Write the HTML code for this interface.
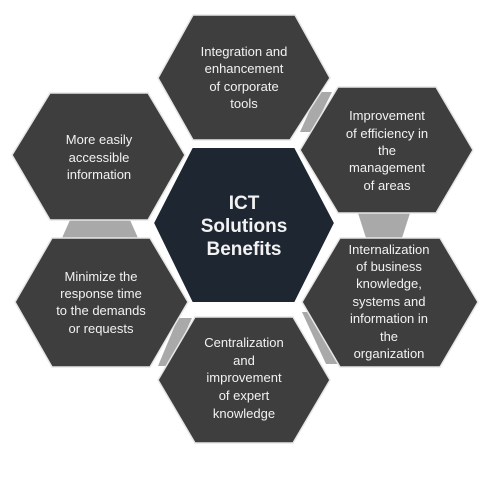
<!DOCTYPE html>
<html><head><meta charset="utf-8"><style>
html,body{margin:0;padding:0;background:#fff;}
svg{display:block;}
text{font-family:"Liberation Sans","DejaVu Sans",sans-serif;fill:#f2f2f2;text-anchor:middle;}
</style></head><body>
<svg width="501" height="501" viewBox="0 0 501 501">
<g fill="#a9a9a9">
<polygon points="318,92 332,92 312,132 300,132"/>
<polygon points="70,220 130,220 138,238 62,238"/>
<polygon points="358,213 410,213 402,238 366,238"/>
<polygon points="178,318 192,318 170,366 158,366"/>
<polygon points="302,312 312,312 338,364 326,364"/>
</g>
<g>
<polygon points="193,15 295,15 330,78 290,140 193,140 158,78" fill="#3e3e3e" stroke="#e6e6e6" stroke-width="1.5"/>
<text font-size="13" x="244" y="56">Integration and</text>
<text font-size="13" x="244" y="73">enhancement</text>
<text font-size="13" x="244" y="91">of corporate</text>
<text font-size="13" x="244" y="108">tools</text>
</g>
<g>
<polygon points="50,93 148,93 185,155 148,220 50,220 12,155" fill="#3e3e3e" stroke="#e6e6e6" stroke-width="1.5"/>
<text font-size="13" x="99" y="144">More easily</text>
<text font-size="13" x="99" y="162">accessible</text>
<text font-size="13" x="99" y="179">information</text>
</g>
<g>
<polygon points="338,87 436,87 473,150 436,213 338,213 300,150" fill="#3e3e3e" stroke="#e6e6e6" stroke-width="1.5"/>
<text font-size="13" x="387" y="120">Improvement</text>
<text font-size="13" x="387" y="138">of efficiency in</text>
<text font-size="13" x="387" y="155">the</text>
<text font-size="13" x="387" y="172">management</text>
<text font-size="13" x="387" y="190">of areas</text>
</g>
<g>
<polygon points="192,147 295,147 335,223 295,303 192,303 153,223" fill="#1e2632" stroke="#ffffff" stroke-width="2"/>
<text font-size="19" font-weight="bold" x="244" y="209">ICT</text>
<text font-size="19" font-weight="bold" x="244" y="232">Solutions</text>
<text font-size="19" font-weight="bold" x="244" y="255">Benefits</text>
</g>
<g>
<polygon points="52,238 150,238 188,302 150,367 52,367 15,302" fill="#3e3e3e" stroke="#e6e6e6" stroke-width="1.5"/>
<text font-size="13" x="101" y="281">Minimize the</text>
<text font-size="13" x="101" y="298">response time</text>
<text font-size="13" x="101" y="315">to the demands</text>
<text font-size="13" x="101" y="333">or requests</text>
</g>
<g>
<polygon points="340,238 440,238 478,302 440,367 340,367 302,302" fill="#3e3e3e" stroke="#e6e6e6" stroke-width="1.5"/>
<text font-size="13" x="389" y="254">Internalization</text>
<text font-size="13" x="389" y="271">of business</text>
<text font-size="13" x="389" y="288">knowledge,</text>
<text font-size="13" x="389" y="306">systems and</text>
<text font-size="13" x="389" y="323">information in</text>
<text font-size="13" x="389" y="341">the</text>
<text font-size="13" x="389" y="358">organization</text>
</g>
<g>
<polygon points="195,317 293,317 330,380 293,443 195,443 158,380" fill="#3e3e3e" stroke="#e6e6e6" stroke-width="1.5"/>
<text font-size="13" x="244" y="347">Centralization</text>
<text font-size="13" x="244" y="365">and</text>
<text font-size="13" x="244" y="382">improvement</text>
<text font-size="13" x="244" y="400">of expert</text>
<text font-size="13" x="244" y="418">knowledge</text>
</g>
</svg>
</body></html>
